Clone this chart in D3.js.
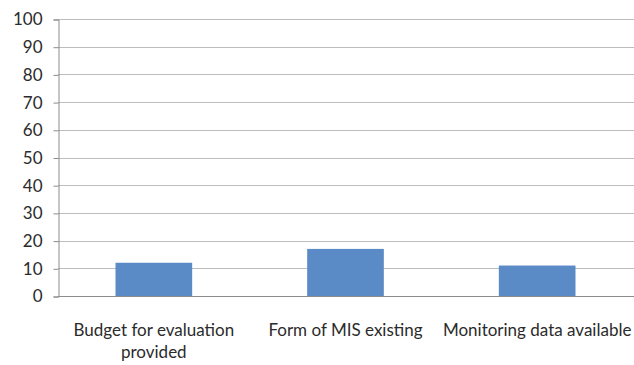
<!DOCTYPE html>
<html>
<head>
<meta charset="utf-8">
<script src="https://cdn.jsdelivr.net/npm/d3@7"></script>
<style>
  html, body { margin: 0; padding: 0; background: #fff; }
  svg { display: block; }
</style>
</head>
<body>
<svg id="chart" width="634" height="365"></svg>
<script>
// Data
const categories = [
  ["Budget for evaluation", "provided"],
  ["Form of MIS existing"],
  ["Monitoring data available"]
];
const values = [12, 17, 11];
const yTicks = [0, 10, 20, 30, 40, 50, 60, 70, 80, 90, 100];

const W = 634, H = 365;
const margin = { left: 58, right: 1, top: 19, bottom: 69 };
const font = "Lato, 'Open Sans', sans-serif";

const svg = d3.select("#chart");

const x = d3.scaleBand()
  .domain(d3.range(categories.length))
  .range([margin.left, W - margin.right])
  .paddingInner(0.6)
  .paddingOuter(0.3);

const y = d3.scaleLinear()
  .domain([0, 100])
  .range([H - margin.bottom, margin.top]);

// Horizontal gridlines
svg.append("g")
  .selectAll("line")
  .data(yTicks.filter(d => d > 0))
  .join("line")
  .attr("x1", margin.left)
  .attr("x2", W)
  .attr("y1", d => Math.round(y(d)) + 0.5)
  .attr("y2", d => Math.round(y(d)) + 0.5)
  .attr("stroke", "#bdbdbd")
  .attr("stroke-width", 1);

// Y axis with outward ticks
const yAxis = d3.axisLeft(y)
  .tickValues(yTicks)
  .tickSize(5)
  .tickPadding(11)
  .tickFormat(d3.format("d"));

const gy = svg.append("g")
  .attr("transform", `translate(${margin.left + 0.5},0.5)`)
  .call(yAxis);
gy.select(".domain").attr("stroke", "#8c8c8c");
gy.selectAll(".tick line").attr("stroke", "#8c8c8c");
gy.selectAll(".tick text")
  .attr("font-family", font)
  .attr("font-size", 17)
  .attr("fill", "#2b2b2b");

// Bars
svg.append("g")
  .selectAll("rect")
  .data(values)
  .join("rect")
  .attr("x", (d, i) => x(i))
  .attr("width", x.bandwidth())
  .attr("y", d => y(d))
  .attr("height", d => y(0) - y(d))
  .attr("fill", "#5b8bc6");

// Baseline (x axis)
svg.append("line")
  .attr("x1", margin.left)
  .attr("x2", W)
  .attr("y1", Math.round(y(0)) + 0.5)
  .attr("y2", Math.round(y(0)) + 0.5)
  .attr("stroke", "#8c8c8c");

// Category labels
const labels = svg.append("g")
  .selectAll("text")
  .data(categories)
  .join("text")
  .attr("x", (d, i) => x(i) + x.bandwidth() / 2)
  .attr("y", 336)
  .attr("text-anchor", "middle")
  .attr("font-family", font)
  .attr("font-size", 17)
  .attr("fill", "#2b2b2b");

labels.selectAll("tspan")
  .data(d => d)
  .join("tspan")
  .attr("x", function () { return d3.select(this.parentNode).attr("x"); })
  .attr("dy", (d, i) => i === 0 ? 0 : 22)
  .text(d => d);
</script>
</body>
</html>
